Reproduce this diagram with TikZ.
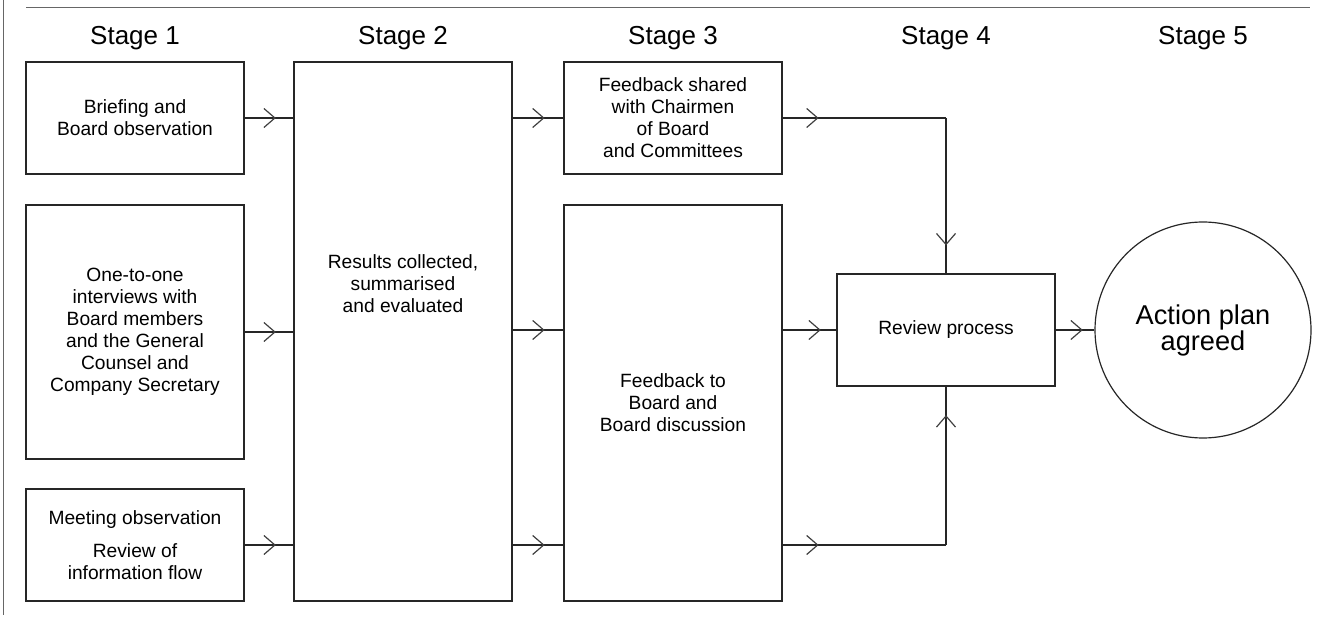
\documentclass[tikz,border=0pt]{standalone}
\usepackage{fontspec}
\setmainfont{Liberation Sans}
\usetikzlibrary{positioning, arrows.meta, decorations.markings}

\begin{document}
\begin{tikzpicture}[
    x=0.5pt, y=-0.5pt,
    box/.style={draw=black!85, line width=0.65pt, minimum width=109pt, align=center, font=\fontsize{9.6}{11}\selectfont, inner sep=2pt},
    stagebox/.style={box, minimum height=56pt},
    head/.style={font=\fontsize{13}{15}\selectfont, anchor=base},
    link/.style={draw=black!85, line width=0.6pt},
    chev/.style={decoration={markings, mark=at position #1 with {\arrow[black!75]{Straight Barb[length=5.5pt,width=9.5pt]}}}, postaction={decorate}},
    frame/.style={draw=black!60, line width=0.5pt},
]
\useasboundingbox (0,0) rectangle (1333,619);

% Frame
\draw[frame] (3,0) -- (3,615);
\draw[frame] (26,8) -- (1310,8);

% Stage headings
\foreach \x/\n in {135/1, 403/2, 673/3, 946/4, 1203/5}
    \node[head] (h\n) at (\x,45) {Stage \n};

% Stage 1
\node[stagebox] (s1a) at (135,118) {Briefing and\\Board observation};
\node[box, minimum height=127pt] (s1b) at (135,332) {One-to-one\\interviews with\\Board members\\and the General\\Counsel and\\Company Secretary};
\node[stagebox] (s1c) at (135,545) {Meeting observation\\[5.5pt]Review of\\information flow};

% Stage 2
\node[box, minimum height=269.5pt] (s2) at (403,331.5) {};
\node[align=center, font=\fontsize{9.6}{11}\selectfont] (s2txt) at ([yshift=24pt]s2.center) {Results collected,\\summarised\\and evaluated};

% Stage 3
\node[stagebox] (s3a) at (673,118) {Feedback shared\\with Chairmen\\of Board\\and Committees};
\node[box, minimum height=198pt] (s3b) at (673,403) {Feedback to\\Board and\\Board discussion};

% Stage 4 and 5
\node[stagebox] (s4) at (946,330) {Review process};
\node[circle, draw=black!85, line width=0.6pt, minimum size=108pt, align=center, font=\fontsize{13.6}{13}\selectfont] (s5) at (1203,330) {Action plan\\agreed};

% Stage 1 to stage 2
\draw[link, chev=0.64] (s1a.east) -- (s1a.east -| s2.west);
\draw[link, chev=0.64] (s1b.east) -- (s1b.east -| s2.west);
\draw[link, chev=0.64] (s1c.east) -- (s1c.east -| s2.west);

% Stage 2 to stage 3
\draw[link, chev=0.63] (s2.east |- s3a.west) -- (s3a.west);
\draw[link, chev=0.63] (s2.east |- s4.west) -- (s4.west -| s3b.west);
\draw[link, chev=0.63] (s2.east |- s1c.east) -- (s1c.east -| s3b.west);

% Stage 3 to review
\coordinate (tcorner) at (s3a.east -| s4.north);
\coordinate (bcorner) at (s1c.east -| s4.south);
\draw[link, chev=0.22] (s3a.east) -- (tcorner);
\draw[link, chev=0.82] (tcorner) -- (s4.north);
\draw[link, chev=0.71] (s4.west -| s3b.east) -- (s4.west);
\draw[link, chev=0.22] (bcorner -| s3b.east) -- (bcorner);
\draw[link, chev=0.82] (bcorner) -- (s4.south);

% Review to action plan
\draw[link, chev=0.7] (s4.east) -- (s5.west);

\end{tikzpicture}
\end{document}
